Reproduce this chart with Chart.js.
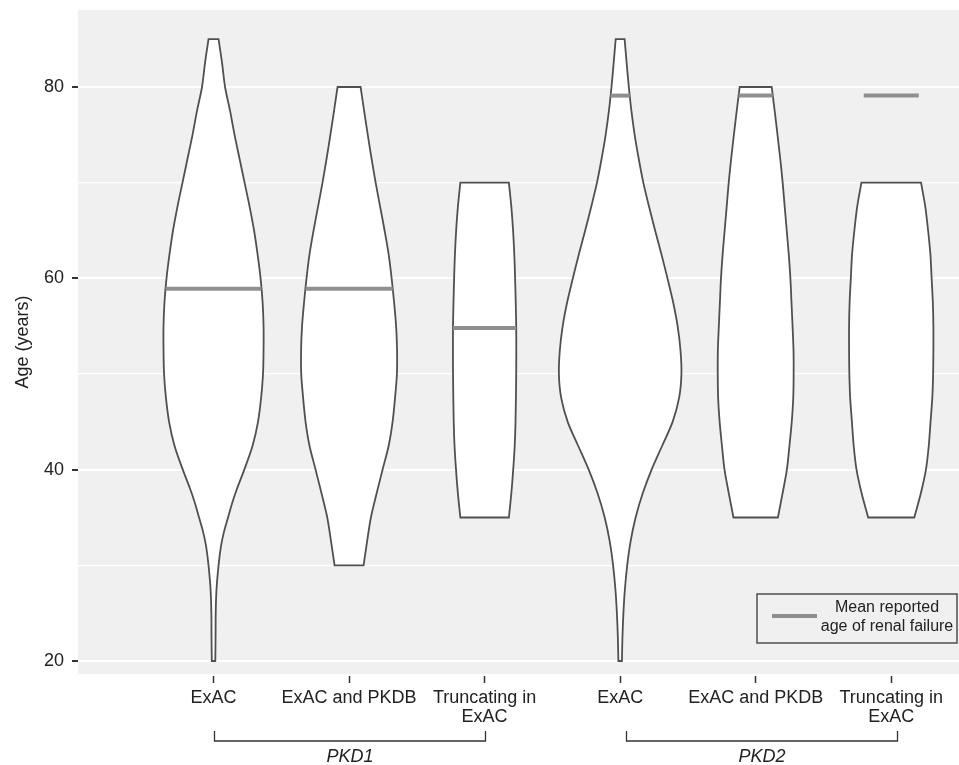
<!DOCTYPE html>
<html>
<head>
<meta charset="utf-8">
<script src="https://cdn.jsdelivr.net/npm/chart.js@4.4.1/dist/chart.umd.min.js"></script>
<style>
  html, body { margin: 0; padding: 0; background: #ffffff; }
  #wrap { width: 959px; height: 765px; }
</style>
</head>
<body>
<div id="wrap"><canvas id="chart" width="959" height="765"></canvas></div>
<script>
// Categories along the x axis (one violin each)
const categoryLabels = ['ExAC', 'ExAC and PKDB', ['Truncating in', 'ExAC'], 'ExAC', 'ExAC and PKDB', ['Truncating in', 'ExAC']];
const categoryPositions = [1, 2, 3, 4, 5, 6];

// Gene groups shown with brackets under the axis
const geneGroups = ['PKD1', 'PKD2'];
const groupFrom = [1, 4.04];
const groupTo = [3, 6.04];

// Age axis ticks (labelled every 20 years)
const ageTicks = [20, 30, 40, 50, 60, 70, 80];

// Violin outlines: ages and half-width of the density at each age
const ages1 = [20, 22.5, 25, 27.5, 30, 32, 33.5, 35, 36.5, 38, 40, 42.5, 45, 47.5, 50, 52.5, 55, 57.5, 60, 62.5, 65, 67.5, 70, 72.5, 75, 77.5, 80, 82.5, 85];
const width1 = [0.013, 0.015, 0.016, 0.022, 0.037, 0.055, 0.077, 0.107, 0.137, 0.173, 0.227, 0.288, 0.328, 0.351, 0.365, 0.369, 0.369, 0.362, 0.347, 0.325, 0.299, 0.266, 0.229, 0.192, 0.155, 0.122, 0.085, 0.063, 0.037];

const ages2 = [30, 32.5, 35, 37.5, 40, 42.5, 45, 47.5, 50, 52.5, 55, 57.5, 60, 62.5, 65, 67.5, 70, 72.5, 75, 77.5, 80];
const width2 = [0.107, 0.133, 0.161, 0.203, 0.247, 0.292, 0.321, 0.339, 0.353, 0.354, 0.347, 0.332, 0.314, 0.292, 0.262, 0.229, 0.196, 0.166, 0.138, 0.111, 0.085];

const ages3 = [35, 37.5, 40, 42.5, 45, 50, 55, 60, 62.5, 65, 67.5, 70];
const width3 = [0.179, 0.197, 0.211, 0.222, 0.228, 0.233, 0.233, 0.225, 0.219, 0.210, 0.197, 0.179];

const ages4 = [20, 22.5, 25, 27.5, 30, 32.5, 35, 37.5, 40, 42.5, 45, 47.5, 50, 52.5, 55, 57.5, 60, 62.5, 65, 67.5, 70, 72.5, 75, 77.5, 80, 82.5, 85];
const width4 = [0.013, 0.017, 0.024, 0.035, 0.052, 0.077, 0.114, 0.166, 0.232, 0.310, 0.387, 0.435, 0.452, 0.445, 0.424, 0.391, 0.349, 0.305, 0.258, 0.213, 0.171, 0.137, 0.107, 0.083, 0.064, 0.048, 0.033];

const ages5 = [35, 37.5, 40, 42.5, 45, 47.5, 50, 52.5, 55, 57.5, 60, 62.5, 65, 67.5, 70, 72.5, 75, 77.5, 80];
const width5 = [0.164, 0.198, 0.230, 0.249, 0.266, 0.277, 0.280, 0.279, 0.272, 0.264, 0.256, 0.244, 0.229, 0.214, 0.199, 0.181, 0.161, 0.140, 0.118];

const ages6 = [35, 37.5, 40, 42.5, 45, 47.5, 50, 52.5, 55, 57.5, 60, 62.5, 65, 67.5, 70];
const width6 = [0.170, 0.218, 0.256, 0.277, 0.290, 0.303, 0.309, 0.311, 0.311, 0.307, 0.298, 0.289, 0.272, 0.251, 0.220];

// Mean reported age of renal failure for each category
const meanAge = [58.9, 58.9, 54.8, 79.1, 79.1, 79.1];
const legendLines = ['Mean reported', 'age of renal failure'];

const violinAges = [ages1, ages2, ages3, ages4, ages5, ages6];
const violinWidths = [width1, width2, width3, width4, width5, width6];

const FONT = '"Liberation Sans", Arial, Helvetica, sans-serif';
const TEXT = '#222222';
const OUTLINE = '#505050';
const MEAN = '#8f8f8f';
const PANEL = '#f0f0f0';
const MEAN_DEFAULT_HALF = 0.203;

// Closed outline: bottom centre, up the left side, across the top, down the right.
// Corner points are doubled so the smoothing keeps the flat ends square.
function outline(pos, ages, hw) {
  const n = ages.length;
  const pts = [{x: pos, y: ages[0]}];
  pts.push({x: pos - hw[0], y: ages[0]});
  for (let i = 0; i < n; i++) pts.push({x: pos - hw[i], y: ages[i]});
  pts.push({x: pos - hw[n - 1], y: ages[n - 1]});
  pts.push({x: pos + hw[n - 1], y: ages[n - 1]});
  for (let i = n - 1; i >= 0; i--) pts.push({x: pos + hw[i], y: ages[i]});
  pts.push({x: pos + hw[0], y: ages[0]});
  pts.push({x: pos, y: ages[0]});
  return pts;
}

function halfWidthAt(ages, hw, a) {
  if (a < ages[0] || a > ages[ages.length - 1]) return MEAN_DEFAULT_HALF;
  for (let i = 0; i < ages.length - 1; i++) {
    if (a >= ages[i] && a <= ages[i + 1]) {
      const t = (a - ages[i]) / (ages[i + 1] - ages[i]);
      return hw[i] + t * (hw[i + 1] - hw[i]);
    }
  }
  return hw[hw.length - 1];
}

const datasets = [];
categoryPositions.forEach((pos, i) => {
  datasets.push({
    label: 'violin ' + (i + 1),
    data: outline(pos, violinAges[i], violinWidths[i]),
    borderColor: OUTLINE,
    borderWidth: 1.8,
    backgroundColor: '#ffffff',
    fill: 'shape',
    tension: 0.3,
    pointRadius: 0,
    borderJoinStyle: 'miter',
    order: 2
  });
});
categoryPositions.forEach((pos, i) => {
  const h = halfWidthAt(violinAges[i], violinWidths[i], meanAge[i]);
  datasets.push({
    label: 'mean ' + (i + 1),
    data: [{x: pos - h, y: meanAge[i]}, {x: pos + h, y: meanAge[i]}],
    borderColor: MEAN,
    borderWidth: 4,
    borderCapStyle: 'butt',
    fill: false,
    tension: 0,
    pointRadius: 0,
    order: 1
  });
});

// Grey plotting panel behind the grid
const panelPlugin = {
  id: 'panel',
  beforeDraw(chart) {
    const {ctx, chartArea: a} = chart;
    ctx.save();
    ctx.fillStyle = PANEL;
    ctx.fillRect(a.left, a.top, a.right - a.left, a.bottom - a.top);
    ctx.restore();
  }
};

// Brackets grouping the categories by gene
const bracketPlugin = {
  id: 'brackets',
  afterDraw(chart) {
    const {ctx, chartArea: a} = chart;
    const xs = chart.scales.x;
    const yTop = a.bottom + 57;
    const yLine = a.bottom + 67;
    ctx.save();
    ctx.strokeStyle = '#333333';
    ctx.lineWidth = 1.3;
    geneGroups.forEach((g, i) => {
      const x1 = Math.round(xs.getPixelForValue(groupFrom[i])) + 0.5;
      const x2 = Math.round(xs.getPixelForValue(groupTo[i])) + 0.5;
      ctx.beginPath();
      ctx.moveTo(x1, yTop);
      ctx.lineTo(x1, yLine);
      ctx.lineTo(x2, yLine);
      ctx.lineTo(x2, yTop);
      ctx.stroke();
      ctx.fillStyle = TEXT;
      ctx.font = 'italic 18px ' + FONT;
      ctx.textAlign = 'center';
      ctx.textBaseline = 'middle';
      ctx.fillText(g, (x1 + x2) / 2, a.bottom + 83);
    });
    ctx.restore();
  }
};

// Legend box for the mean line, inside the lower right corner of the panel
const legendPlugin = {
  id: 'meanLegend',
  afterDraw(chart) {
    const {ctx, chartArea: a} = chart;
    const w = 200, h = 49;
    const x = a.right - 2 - w;
    const y = a.bottom - 31 - h;
    ctx.save();
    ctx.fillStyle = PANEL;
    ctx.fillRect(x, y, w, h);
    ctx.strokeStyle = '#444444';
    ctx.lineWidth = 1.4;
    ctx.strokeRect(x, y, w, h);
    ctx.strokeStyle = MEAN;
    ctx.lineWidth = 4;
    ctx.beginPath();
    ctx.moveTo(x + 15, y + 22);
    ctx.lineTo(x + 60, y + 22);
    ctx.stroke();
    ctx.fillStyle = TEXT;
    ctx.font = '16px ' + FONT;
    ctx.textAlign = 'center';
    ctx.textBaseline = 'middle';
    ctx.fillText(legendLines[0], x + 130, y + 14);
    ctx.fillText(legendLines[1], x + 130, y + 33);
    ctx.restore();
  }
};

new Chart(document.getElementById('chart'), {
  type: 'line',
  data: { datasets },
  options: {
    responsive: false,
    animation: false,
    devicePixelRatio: 1,
    layout: { padding: { top: 10, right: 0, bottom: 0, left: 0 } },
    plugins: {
      legend: { display: false },
      tooltip: { enabled: false }
    },
    scales: {
      x: {
        type: 'linear',
        min: 0,
        max: 6.5,
        afterBuildTicks: (s) => { s.ticks = categoryPositions.map(v => ({ value: v })); },
        afterFit: (s) => { s.height = 91; s.paddingLeft = 0; s.paddingRight = 0; },
        border: { display: false },
        grid: {
          drawOnChartArea: false,
          drawTicks: true,
          tickLength: 9,
          tickColor: '#333333',
          tickWidth: 1.5,
          tickBorderDash: [0, 2, 7, 0]
        },
        ticks: {
          autoSkip: false,
          maxRotation: 0,
          padding: 6,
          color: TEXT,
          font: { family: FONT, size: 18, lineHeight: 1.02 },
          callback: (v) => categoryLabels[categoryPositions.indexOf(v)]
        }
      },
      y: {
        type: 'linear',
        min: 18.64,
        max: 88.05,
        afterBuildTicks: (s) => { s.ticks = ageTicks.map(v => ({ value: v })); },
        afterFit: (s) => { s.width = 78; s.paddingTop = 0; s.paddingBottom = 0; },
        border: { display: false },
        grid: {
          color: '#ffffff',
          lineWidth: (c) => (c.tick && c.tick.value % 20 === 0 ? 2 : 1.3),
          drawTicks: true,
          tickLength: 6,
          tickWidth: 2,
          tickColor: (c) => (c.tick && c.tick.value % 20 === 0 ? '#333333' : 'rgba(0,0,0,0)')
        },
        ticks: {
          padding: 8,
          color: TEXT,
          font: { family: FONT, size: 18 },
          callback: (v) => (v % 20 === 0 ? String(v) : '')
        },
        title: {
          display: true,
          text: 'Age (years)',
          color: TEXT,
          font: { family: FONT, size: 18 },
          padding: { top: 12.7, bottom: 0 }
        }
      }
    }
  },
  plugins: [panelPlugin, bracketPlugin, legendPlugin]
});
</script>
</body>
</html>
